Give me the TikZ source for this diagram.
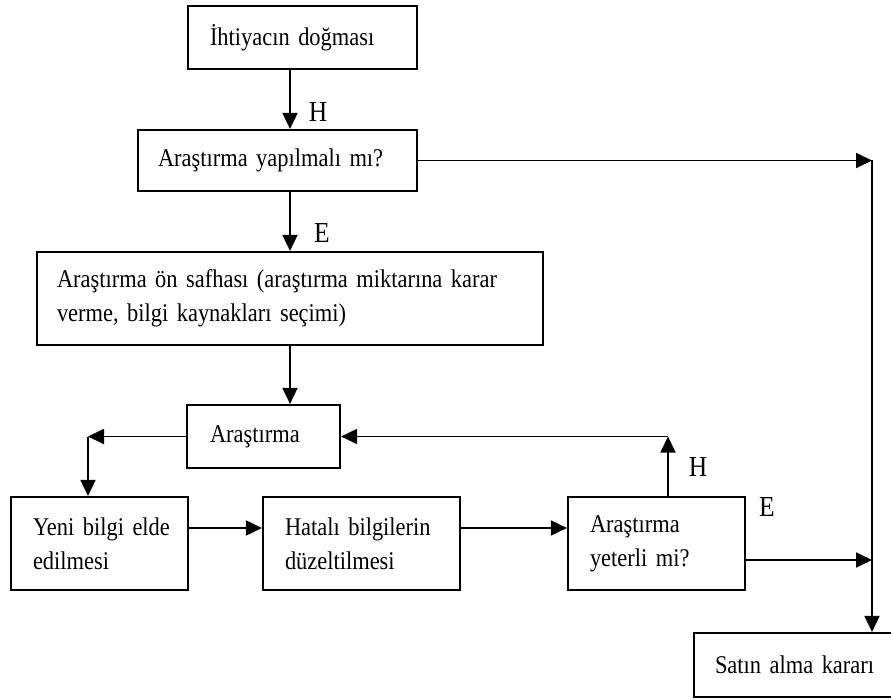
\documentclass[tikz,border=0pt]{standalone}
\usepackage{fontspec}
\setmainfont{Liberation Serif}[FakeStretch=0.88]
\usetikzlibrary{arrows.meta}
\newcommand{\boxfont}{\fontsize{25.5}{34}\selectfont\spaceskip=4.2pt plus 2pt minus 1pt\relax}
\begin{document}
\begin{tikzpicture}[x=1pt,y=-1pt,
  box/.style={draw, line width=2.2pt, align=left, inner ysep=0pt, font=\boxfont},
  openbox/.style={box, draw=none},
  arr/.style={line width=1.8pt, -{Triangle[length=16pt,width=15pt]}},
  lbl/.style={font=\fontsize{29}{29}\selectfont, inner sep=0pt}]
\useasboundingbox (0,0) rectangle (891,700);
\fill[white] (0,0) rectangle (891,700);

\node[box, text width=185pt, inner xsep=22pt, minimum height=63pt] (b1) at (302.5,37.5) {\mbox{İhtiyacın doğması}};
\node[box, text width=239pt, inner xsep=20pt, minimum height=61pt] (b2) at (277.5,160.5) {\mbox{Araştırma yapılmalı mı?}};
\node[box, text width=466pt, inner xsep=20pt, minimum height=93pt] (b3) at (290,298.5) {\mbox{Araştırma ön safhası (araştırma miktarına karar}\\\mbox{verme, bilgi kaynakları seçimi)}};
\node[box, text width=107pt, inner xsep=23pt, minimum height=63pt] (b4) at (263.5,436.5) {\mbox{Araştırma}};
\node[box, text width=133pt, inner xsep=22pt, minimum height=93pt] (b5) at (99.5,543.5) {\mbox{Yeni bilgi elde}\\\mbox{edilmesi}};
\node[box, text width=153pt, inner xsep=22pt, minimum height=93pt] (b6) at (361.5,543.5) {\mbox{Hatalı bilgilerin}\\\mbox{düzeltilmesi}};
\node[box, text width=133pt, inner xsep=22pt, minimum height=93pt] (b7) at (656.5,543.5) {\mbox{Araştırma}\\\mbox{yeterli mi?}};
\node[openbox, text width=260pt, inner xsep=21pt, minimum height=64pt] (b8) at (845,665) {\mbox{Satın alma kararı}};
\draw[line width=2.2pt] (892,633) -- (694,633) -- (694,697) -- (892,697);

\coordinate (c1) at (872,160.5);
\coordinate (c2) at (88,436.5);
\coordinate (c3) at (668,436.5);
\coordinate (r1) at (0,528);
\coordinate (r2) at (0,560);

\draw[arr] (b1.south -| b3.north) -- (b2.north -| b3.north);
\draw[arr] (b2.south -| b3.north) -- (b3.north);
\draw[arr] (b2.east) -- (c1);
\draw[arr] (c1) -- (c1 |- b8.north);
\draw[arr] (b3.south) -- (b4.north -| b3.south);
\draw[arr] (b4.west) -- (c2);
\draw[arr] (c2) -- (c2 |- b5.north);
\draw[arr] (b5.east |- r1) -- (b6.west |- r1);
\draw[arr] (b6.east |- r1) -- (b7.west |- r1);
\draw[arr] (b7.north -| c3) -- (c3);
\draw[arr] (c3) -- (b4.east);
\draw[arr] (b7.east |- r2) -- (c1 |- r2);

\node[lbl] (h1) at (318,112) {H};
\node[lbl] (e1) at (322,233) {E};
\node[lbl] (h2) at (698,467) {H};
\node[lbl] (e2) at (767,507) {E};
\end{tikzpicture}
\end{document}
